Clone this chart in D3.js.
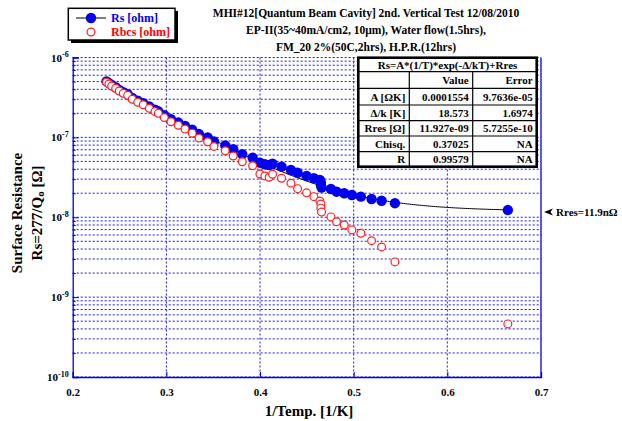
<!DOCTYPE html>
<html><head><meta charset="utf-8">
<script src="https://cdn.jsdelivr.net/npm/d3@7"></script>
<style>
html,body{margin:0;padding:0;background:#fff;}
svg{display:block;font-family:"Liberation Serif","Times New Roman",serif;font-weight:bold;}
</style></head>
<body>
<svg id="chart" width="622" height="421"></svg>
<script>
// ---------- data ----------
const invTemp = [0.2361,0.2387,0.2416,0.2459,0.2497,0.2540,0.2587,0.2636,0.2694,0.2753,
  0.2818,0.2878,0.2914,0.2978,0.3049,0.3127,0.3199,0.3276,0.3348,0.3441,
  0.3508,0.3629,0.3714,0.3810,0.3921,0.3999,0.4052,0.4098,0.4134,0.4230,
  0.4330,0.4401,0.4497,0.4575,0.4639,0.4650,0.4650,0.4657,0.4757,0.4817,
  0.4899,0.4981,0.5077,0.5191,0.5298,0.5440,0.6646];
const rsOhm = [5.02e-7,4.78e-7,4.52e-7,4.24e-7,3.93e-7,3.68e-7,3.48e-7,3.12e-7,2.87e-7,2.68e-7,
  2.43e-7,2.22e-7,2.12e-7,1.89e-7,1.69e-7,1.54e-7,1.39e-7,1.25e-7,1.10e-7,1.00e-7,
  8.9e-8,7.9e-8,7.1e-8,6.15e-8,5.57e-8,4.82e-8,4.60e-8,4.51e-8,4.69e-8,4.30e-8,
  3.91e-8,3.61e-8,3.29e-8,3.08e-8,2.93e-8,2.72e-8,2.53e-8,2.36e-8,2.26e-8,2.09e-8,
  2.00e-8,1.90e-8,1.81e-8,1.69e-8,1.61e-8,1.50e-8,1.23e-8];
const rbcsOhm = [4.90e-7,4.66e-7,4.40e-7,4.12e-7,3.81e-7,3.56e-7,3.36e-7,3.00e-7,2.75e-7,2.56e-7,
  2.31e-7,2.10e-7,2.00e-7,1.77e-7,1.57e-7,1.42e-7,1.27e-7,1.13e-7,9.8e-8,8.8e-8,
  7.7e-8,6.8e-8,5.85e-8,4.96e-8,4.42e-8,3.48e-8,3.29e-8,3.17e-8,3.45e-8,3.08e-8,
  2.67e-8,2.28e-8,2.02e-8,1.81e-8,1.60e-8,1.46e-8,1.30e-8,1.16e-8,1.01e-8,8.8e-9,
  8.0e-9,6.94e-9,6.31e-9,5.09e-9,4.25e-9,2.76e-9,4.62e-10];
// fit parameters (from the table)
const fitA = 0.0001554, fitDelta = 18.573, fitRres = 11.927e-9;
const xTicks = [0.2,0.3,0.4,0.5,0.6,0.7];
const yExps = [-6,-7,-8,-9,-10];
const titleLines = ["MHI#12[Quantum Beam Cavity] 2nd. Vertical Test 12/08/2010",
  "EP-II(35~40mA/cm2, 10\u03bcm), Water flow(1.5hrs),",
  "FM_20 2%(50C,2hrs), H.P.R.(12hrs)"];
const tableHeader = "Rs=A*(1/T)*exp(-\u0394/kT)+Rres";
const tableCols = ["", "Value", "Error"];
const tableRows = [
  ["A [\u03a9K]", "0.0001554", "9.7636e-05"],
  ["\u0394/k [K]", "18.573", "1.6974"],
  ["Rres [\u03a9]", "11.927e-09", "5.7255e-10"],
  ["Chisq.", "0.37025", "NA"],
  ["R", "0.99579", "NA"]];

// ---------- layout ----------
const svg = d3.select("#chart");
svg.append("rect").attr("width",622).attr("height",421).attr("fill","#fff");
const L=72.7, R=541, T=57.5, B=377;
const x = d3.scaleLinear().domain([0.2,0.7]).range([L,R]);
const y = d3.scaleLog().domain([1e-10,1e-6]).range([B,T]);
const axisBlue = "#0000e0", gridBlue = "#1a1ae0";

// grid
const gridVals = [];
for (let e=-10; e<-6; e++) for (let k=1;k<=9;k++) gridVals.push(k*Math.pow(10,e));
gridVals.push(1e-6);
const grid = svg.append("g");
grid.selectAll("line.h").data(gridVals).join("line")
  .attr("x1",L).attr("x2",R).attr("y1",d=>y(d)).attr("y2",d=>y(d))
  .attr("stroke",gridBlue).attr("stroke-width",1).attr("stroke-dasharray","2,2");
grid.selectAll("line.v").data(xTicks.slice(1,-1)).join("line")
  .attr("y1",T).attr("y2",B).attr("x1",d=>x(d)).attr("x2",d=>x(d))
  .attr("stroke",gridBlue).attr("stroke-width",1).attr("stroke-dasharray","2,2");

// axes
const xAxis = svg.append("g").attr("transform",`translate(0,${B})`)
  .call(d3.axisBottom(x).tickValues(xTicks).tickSize(-5).tickPadding(11).tickFormat(d3.format(".1f")));
const yAxis = svg.append("g").attr("transform",`translate(${L},0)`)
  .call(d3.axisLeft(y).tickValues(yExps.map(e=>Math.pow(10,e))).tickSize(-6).tickPadding(4).tickFormat(()=>""));
const yMinor = svg.append("g").attr("transform",`translate(${L},0)`)
  .call(d3.axisLeft(y).tickValues(gridVals.filter(v=>Math.abs(Math.log10(v)%1)>1e-6)).tickSize(-3).tickFormat(()=>""));
yMinor.select(".domain").remove();
[xAxis,yAxis,yMinor].forEach(g=>{
  g.selectAll("line").attr("stroke",axisBlue);
  g.select(".domain").attr("stroke",axisBlue).attr("stroke-width",1.3);
  g.selectAll("text").attr("fill","#000").attr("font-size","11px").attr("font-weight","bold")
    .attr("font-family","'Liberation Serif',serif");
});
yAxis.selectAll(".tick text").each(function(d){
  const t=d3.select(this); t.text("10");
  t.append("tspan").attr("dy","-0.55em").attr("font-size","8px").text(Math.round(Math.log10(d)));
});
// right frame
svg.append("line").attr("x1",R).attr("x2",R).attr("y1",T).attr("y2",B)
  .attr("stroke",axisBlue).attr("stroke-width",1.3);

// fit curve
const fitX = d3.range(0,201).map(i=>0.236+(0.6646-0.236)*i/200);
const fitLine = d3.line().x(d=>x(d)).y(d=>y(fitA*d*Math.exp(-fitDelta*d)+fitRres));
svg.append("path").datum(fitX).attr("d",fitLine).attr("fill","none")
  .attr("stroke","#000").attr("stroke-width",1);

// points
svg.append("g").selectAll("circle").data(invTemp).join("circle")
  .attr("cx",d=>x(d)).attr("cy",(d,i)=>y(rsOhm[i])).attr("r",5.2).attr("fill","#0000ee");
svg.append("g").selectAll("circle").data(invTemp).join("circle")
  .attr("cx",d=>x(d)).attr("cy",(d,i)=>y(rbcsOhm[i])).attr("r",3.9)
  .attr("fill","#fff").attr("stroke","#ff2020").attr("stroke-width",1.2);

// table
const colX=[358.3,409.3,472.7,536.7];
const rowY=[57.7,71.7,88.3,105,120.7,136,151.7,166.7];
const tg = svg.append("g").attr("font-size","11px");
tg.append("rect").attr("x",colX[0]).attr("y",rowY[0]).attr("width",colX[3]-colX[0]).attr("height",rowY[7]-rowY[0])
  .attr("fill","#fff");
rowY.slice(1,-1).forEach(v=>tg.append("line").attr("x1",colX[0]).attr("x2",colX[3]).attr("y1",v).attr("y2",v)
  .attr("stroke","#000").attr("stroke-width",1.2));
[colX[1],colX[2]].forEach(v=>tg.append("line").attr("x1",v).attr("x2",v).attr("y1",rowY[1]).attr("y2",rowY[7])
  .attr("stroke","#000").attr("stroke-width",1.2));
tg.append("rect").attr("x",colX[0]).attr("y",rowY[0]).attr("width",colX[3]-colX[0]).attr("height",rowY[7]-rowY[0])
  .attr("fill","none").attr("stroke","#000").attr("stroke-width",2.6);
tg.append("text").attr("x",(colX[0]+colX[3])/2).attr("y",(rowY[0]+rowY[1])/2+4).attr("text-anchor","middle").text(tableHeader);
const cellRows=[tableCols].concat(tableRows);
cellRows.forEach((r,ri)=>{
  const cy=(rowY[ri+1]+rowY[ri+2])/2+4;
  r.forEach((c,ci)=>{
    tg.append("text").attr("x",colX[ci+1]-4).attr("y",cy).attr("text-anchor","end").text(c);
  });
});

// title
svg.append("g").selectAll("text").data(titleLines).join("text")
  .attr("x",366).attr("y",(d,i)=>17+i*17).attr("text-anchor","middle").attr("font-size","11.5px").text(d=>d);

// legend
const lg = svg.append("g");
lg.append("rect").attr("x",71).attr("y",11).attr("width",107).attr("height",32).attr("fill","#000");
lg.append("rect").attr("x",68.3).attr("y",8.3).attr("width",106.7).attr("height",31.7)
  .attr("fill","#fff").attr("stroke","#000").attr("stroke-width",1.5);
lg.append("line").attr("x1",76).attr("x2",106).attr("y1",18).attr("y2",18).attr("stroke","#000").attr("stroke-width",1);
lg.append("circle").attr("cx",91).attr("cy",18).attr("r",5.2).attr("fill","#0000ee");
lg.append("circle").attr("cx",91).attr("cy",32).attr("r",3.9).attr("fill","#fff").attr("stroke","#ff2020").attr("stroke-width",1.2);
lg.append("text").attr("x",111).attr("y",22).attr("font-size","12px").attr("fill","#0000ee").text("Rs [ohm]");
lg.append("text").attr("x",111).attr("y",36).attr("font-size","12px").attr("fill","#ff0000").text("Rbcs [ohm]");

// annotation
svg.append("path").attr("d","M544,212 L553,208.5 L550.5,212 L553,215.5 Z").attr("fill","#000");
svg.append("text").attr("x",556).attr("y",216).attr("font-size","11px").text("Rres=11.9n\u03a9");

// axis titles
svg.append("text").attr("x",309).attr("y",416).attr("text-anchor","middle").attr("font-size","15px").text("1/Temp. [1/K]");
const yt = svg.append("g").attr("transform","translate(21.5,213) rotate(-90)").attr("font-size","15px");
yt.append("text").attr("text-anchor","middle").text("Surface Resistance");
const yt2 = svg.append("text").attr("transform","translate(41.5,213) rotate(-90)").attr("font-size","15px").attr("text-anchor","middle");
yt2.append("tspan").text("Rs=277/Q");
yt2.append("tspan").attr("font-size","11px").attr("dy","2").text("o");
yt2.append("tspan").attr("dy","-2").text(" [\u03a9]");
</script>
</body></html>
